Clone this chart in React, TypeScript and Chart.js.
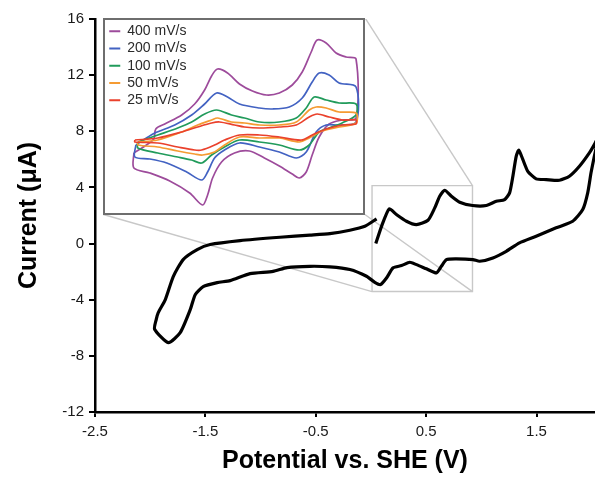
import React, { useEffect, useRef } from 'react';
import { Chart, registerables } from 'chart.js';

Chart.register(...registerables);

const FONT = '"Liberation Sans", Arial, Helvetica, sans-serif';

// ---- main axes ----
const xTicks = [-2.5, -1.5, -0.5, 0.5, 1.5];
const yTicks = [-12, -8, -4, 0, 4, 8, 12, 16];
const xRange = [-2.5, 2.03];
const yRange = [-12, 16];
const xTitle = 'Potential vs. SHE (V)';
const yTitle = 'Current (μA)';

// ---- main CV trace (V, µA) ----
const mainCV: [number, number][] = [
  [0.044, 0.0], [0.096, 1.23], [0.165, 2.47], [0.231, 2.07], [0.322, 1.59], [0.412, 1.35],
  [0.517, 1.66], [0.578, 2.54], [0.623, 3.37], [0.668, 3.8], [0.729, 3.37], [0.804, 2.94],
  [0.921, 2.71], [1.045, 2.71], [1.136, 3.01], [1.211, 3.13], [1.256, 3.61], [1.286, 4.8],
  [1.316, 6.22], [1.34, 6.65], [1.376, 5.99], [1.421, 5.15], [1.497, 4.61], [1.588, 4.56],
  [1.708, 4.51], [1.798, 4.8], [1.889, 5.51], [1.979, 6.46], [2.024, 7.05], [2.06, 7.6],
  [2.024, 6.22], [1.994, 5.04], [1.964, 3.61], [1.919, 2.42], [1.828, 1.59], [1.678, 1.12],
  [1.497, 0.52], [1.346, 0.05], [1.226, -0.55], [1.105, -1.02], [0.985, -1.26], [0.924, -1.14],
  [0.774, -1.09], [0.684, -1.14], [0.638, -1.62], [0.593, -2.09], [0.503, -1.8], [0.412, -1.5],
  [0.352, -1.33], [0.277, -1.57], [0.201, -1.73], [0.141, -2.45], [0.087, -2.92], [0.035, -2.76],
  [-0.04, -2.33], [-0.191, -1.85], [-0.372, -1.66], [-0.553, -1.62], [-0.76, -1.71], [-0.887, -1.98],
  [-1.095, -2.14], [-1.276, -2.64], [-1.393, -2.78], [-1.52, -3.07], [-1.592, -3.64], [-1.637, -4.71],
  [-1.728, -6.35], [-1.836, -7.06], [-1.96, -6.1], [-1.945, -5.4], [-1.927, -4.92], [-1.863, -3.99],
  [-1.791, -2.35], [-1.701, -1.14], [-1.574, -0.43], [-1.457, -0.07], [-1.185, 0.21], [-0.824, 0.45],
  [-0.553, 0.6], [-0.372, 0.71], [-0.191, 0.95], [-0.055, 1.23], [0.051, 1.76],
];

// zoom box and inset frame, in main-axis units
const zoomBoxX = [0.01, 0.92];
const zoomBoxY = [-3.42, 4.13];
const insetX = [-2.424, -0.055];
const insetY = [2.07, 16.1];

// ---- inset (scan-rate series), arbitrary inset units ----
const insetXRange = [-0.1, 1.19];
const insetYRange = [-3.72, 4.0];
const scanLabels = ['400 mV/s', '200 mV/s', '100 mV/s', '50 mV/s', '25 mV/s'];
const scanColors = ['#9d4b9b', '#4262c2', '#219b5b', '#f59b32', '#ea412c'];

const cv400: [number, number][] = [
  [0.045, -1.32], [0.1, -1.04], [0.145, -0.76], [0.155, -0.36], [0.2, -0.16], [0.285, 0.2],
  [0.35, 0.64], [0.4, 1.2], [0.435, 1.76], [0.465, 2.04], [0.515, 1.88], [0.575, 1.44],
  [0.64, 1.16], [0.71, 1.0], [0.775, 1.08], [0.84, 1.4], [0.89, 1.92], [0.935, 2.72],
  [0.965, 3.2], [1.01, 3.08], [1.06, 2.68], [1.11, 2.52], [1.16, 2.44], [1.16, 0.08],
  [1.09, 0.0], [1.025, -0.16], [0.975, -0.68], [0.94, -1.4], [0.91, -2.08], [0.875, -2.32],
  [0.84, -2.16], [0.775, -1.84], [0.7, -1.52], [0.625, -1.24], [0.55, -1.32], [0.485, -1.68],
  [0.44, -2.32], [0.415, -3.0], [0.39, -3.4], [0.325, -2.92], [0.225, -2.44], [0.125, -2.12],
  [0.045, -1.92], [0.045, -1.32],
];
const cv200: [number, number][] = [
  [0.055, -1.0], [0.1, -0.76], [0.15, -0.52], [0.25, -0.2], [0.335, 0.2], [0.4, 0.64],
  [0.46, 1.08], [0.515, 0.92], [0.575, 0.64], [0.675, 0.48], [0.74, 0.44], [0.825, 0.52],
  [0.89, 0.88], [0.94, 1.52], [0.975, 1.88], [1.025, 1.8], [1.075, 1.48], [1.16, 1.32],
  [1.16, -0.08], [1.075, -0.2], [1.01, -0.2], [0.96, -0.48], [0.91, -1.28], [0.86, -1.52],
  [0.775, -1.28], [0.675, -1.08], [0.575, -0.92], [0.5, -1.2], [0.45, -1.52], [0.415, -2.08],
  [0.385, -2.4], [0.31, -2.08], [0.21, -1.72], [0.125, -1.56], [0.05, -1.48], [0.055, -1.0],
];
const cv100: [number, number][] = [
  [0.065, -0.88], [0.165, -0.6], [0.265, -0.32], [0.335, -0.08], [0.4, 0.24], [0.46, 0.4],
  [0.535, 0.2], [0.6, 0.08], [0.675, -0.08], [0.775, -0.08], [0.86, 0.08], [0.91, 0.48],
  [0.95, 0.92], [1.01, 0.8], [1.075, 0.68], [1.16, 0.64], [1.16, 0.2], [1.09, -0.12],
  [1.025, -0.32], [0.975, -0.48], [0.925, -1.0], [0.875, -1.2], [0.775, -1.0], [0.675, -0.88],
  [0.575, -0.8], [0.5, -1.08], [0.435, -1.4], [0.385, -1.72], [0.335, -1.6], [0.265, -1.48],
  [0.165, -1.32], [0.065, -1.12], [0.065, -0.88],
];
const cv50: [number, number][] = [
  [0.065, -0.88], [0.165, -0.8], [0.285, -0.48], [0.365, -0.2], [0.435, 0.0], [0.465, 0.08],
  [0.535, -0.08], [0.6, -0.12], [0.675, -0.2], [0.775, -0.2], [0.86, -0.08], [0.925, 0.4],
  [0.96, 0.52], [1.01, 0.48], [1.075, 0.32], [1.16, 0.28], [1.16, -0.12], [1.075, -0.28],
  [0.99, -0.44], [0.925, -0.72], [0.875, -0.88], [0.775, -0.72], [0.675, -0.72], [0.575, -0.68],
  [0.5, -1.0], [0.45, -1.28], [0.39, -1.4], [0.35, -1.36], [0.265, -1.24], [0.165, -1.08],
  [0.065, -1.0], [0.065, -0.88],
];
const cv25: [number, number][] = [
  [0.05, -0.8], [0.165, -0.72], [0.285, -0.48], [0.365, -0.28], [0.435, -0.12], [0.475, -0.08],
  [0.55, -0.2], [0.6, -0.28], [0.675, -0.32], [0.775, -0.28], [0.86, -0.2], [0.925, 0.12],
  [0.965, 0.24], [1.025, 0.12], [1.09, 0.0], [1.16, 0.0], [1.16, -0.16], [1.09, -0.2],
  [1.01, -0.36], [0.94, -0.6], [0.885, -0.8], [0.775, -0.68], [0.675, -0.6], [0.575, -0.6],
  [0.5, -0.8], [0.45, -1.0], [0.385, -1.2], [0.35, -1.2], [0.265, -1.08], [0.165, -0.92],
  [0.05, -0.88], [0.05, -0.8],
];
const insetCurves = [cv400, cv200, cv100, cv50, cv25];

const toXY = (arr: [number, number][]) => arr.map(([x, y]) => ({ x, y }));

export default function App() {
  const mainRef = useRef<HTMLCanvasElement>(null);
  const boxRef = useRef<HTMLDivElement>(null);
  const insetRef = useRef<HTMLCanvasElement>(null);
  const legendRef = useRef<HTMLCanvasElement>(null);

  useEffect(() => {
    const gray = '#c8c8c8';
    const thin = { borderColor: gray, borderWidth: 1.4, pointRadius: 0, tension: 0 };
    const main = new Chart(mainRef.current as HTMLCanvasElement, {
      type: 'line',
      data: {
        datasets: [
          { data: toXY(mainCV), borderColor: '#000', borderWidth: 3.2, pointRadius: 0, tension: 0.2 },
          {
            ...thin,
            data: [
              { x: zoomBoxX[0], y: zoomBoxY[0] }, { x: zoomBoxX[1], y: zoomBoxY[0] },
              { x: zoomBoxX[1], y: zoomBoxY[1] }, { x: zoomBoxX[0], y: zoomBoxY[1] },
              { x: zoomBoxX[0], y: zoomBoxY[0] },
            ],
          },
          { ...thin, data: [{ x: insetX[1], y: insetY[1] }, { x: zoomBoxX[1], y: zoomBoxY[1] }] },
          { ...thin, data: [{ x: insetX[0], y: insetY[0] }, { x: zoomBoxX[0], y: zoomBoxY[0] }] },
          { ...thin, data: [{ x: insetX[1], y: insetY[0] }, { x: zoomBoxX[1], y: zoomBoxY[0] }] },
        ],
      } as any,
      options: {
        responsive: false,
        animation: false,
        layout: { padding: { top: 19, left: 0, right: 0, bottom: 0 } },
        plugins: { legend: { display: false }, tooltip: { enabled: false } },
        scales: {
          x: {
            type: 'linear',
            min: xRange[0],
            max: xRange[1],
            afterBuildTicks: (s: any) => { s.ticks = xTicks.map((v) => ({ value: v })); },
            afterFit: (s: any) => { s.height = 65; },
            ticks: {
              font: { size: 15, family: FONT },
              color: '#1a1a1a',
              padding: 6,
              callback: (v: any) => Number(v).toFixed(1),
            },
            grid: { display: true, drawOnChartArea: false, drawTicks: true, tickLength: 5, color: '#000', lineWidth: 2 },
            border: { display: true, color: '#000', width: 2.5 },
            title: {
              display: true,
              text: xTitle,
              color: '#000',
              font: { size: 25, weight: 'bold', family: FONT },
              padding: { top: 0, bottom: 1 },
            },
          },
          y: {
            type: 'linear',
            min: yRange[0],
            max: yRange[1],
            afterBuildTicks: (s: any) => { s.ticks = yTicks.map((v) => ({ value: v })); },
            afterFit: (s: any) => { s.width = 95; },
            ticks: {
              font: { size: 15, family: FONT },
              color: '#1a1a1a',
              padding: 5,
              callback: (v: any) => String(v),
            },
            grid: { display: true, drawOnChartArea: false, drawTicks: true, tickLength: 6, color: '#000', lineWidth: 2 },
            border: { display: true, color: '#000', width: 2.5 },
            title: {
              display: true,
              text: yTitle,
              color: '#000',
              font: { size: 25, weight: 'bold', family: FONT },
              padding: { top: 14, bottom: 0 },
            },
          },
        },
      } as any,
    });

    const xs = main.scales.x;
    const ys = main.scales.y;
    const left = xs.getPixelForValue(insetX[0]);
    const right = xs.getPixelForValue(insetX[1]);
    const top = ys.getPixelForValue(insetY[1]);
    const bottom = ys.getPixelForValue(insetY[0]);
    const bw = 2;
    const box = boxRef.current as HTMLDivElement;
    box.style.left = `${left}px`;
    box.style.top = `${top}px`;
    box.style.width = `${right - left}px`;
    box.style.height = `${bottom - top}px`;
    const ic = insetRef.current as HTMLCanvasElement;
    ic.width = Math.round(right - left - 2 * bw);
    ic.height = Math.round(bottom - top - 2 * bw);

    const inset = new Chart(ic, {
      type: 'line',
      data: {
        datasets: insetCurves.map((c, i) => ({
          label: scanLabels[i],
          data: toXY(c),
          borderColor: scanColors[i],
          borderWidth: 1.7,
          pointRadius: 0,
          tension: 0.3,
          order: insetCurves.length - i,
        })),
      } as any,
      options: {
        responsive: false,
        animation: false,
        layout: { padding: 0 },
        plugins: { legend: { display: false }, tooltip: { enabled: false } },
        scales: {
          x: { type: 'linear', display: false, min: insetXRange[0], max: insetXRange[1] },
          y: { type: 'linear', display: false, min: insetYRange[0], max: insetYRange[1] },
        },
      } as any,
    });

    const lc = legendRef.current as HTMLCanvasElement;
    lc.style.left = `${left + 3}px`;
    lc.style.top = `${top + 3.75}px`;
    const legend = new Chart(lc, {
      type: 'line',
      data: {
        datasets: scanLabels.map((l, i) => ({
          label: l,
          data: [],
          borderColor: scanColors[i],
          backgroundColor: scanColors[i],
          borderWidth: 2,
          pointStyle: 'line',
        })),
      } as any,
      options: {
        responsive: false,
        animation: false,
        layout: { padding: 0 },
        scales: { x: { type: 'linear', display: false }, y: { display: false } },
        plugins: {
          tooltip: { enabled: false },
          legend: {
            display: true,
            position: 'left',
            align: 'start',
            labels: {
              usePointStyle: true,
              pointStyle: 'line',
              pointStyleWidth: 11,
              boxHeight: 14,
              padding: 3.25,
              color: '#2a2a2a',
              font: { size: 14, family: FONT },
            },
          },
        },
      } as any,
    });

    return () => {
      main.destroy();
      inset.destroy();
      legend.destroy();
    };
  }, []);

  return (
    <div style={{ position: 'absolute', left: 0, top: 0, width: 595, height: 477, background: '#fff', overflow: 'hidden' }}>
      <canvas ref={mainRef} width={595} height={477} style={{ position: 'absolute', left: 0, top: 0, display: 'block' }} />
      <div
        ref={boxRef}
        style={{ position: 'absolute', boxSizing: 'border-box', border: '2px solid #6e6e6e', background: '#fff' }}
      >
        <canvas ref={insetRef} style={{ display: 'block' }} />
      </div>
      <canvas
        ref={legendRef}
        width={190}
        height={100}
        style={{ position: 'absolute', pointerEvents: 'none', display: 'block' }}
      />
    </div>
  );
}
